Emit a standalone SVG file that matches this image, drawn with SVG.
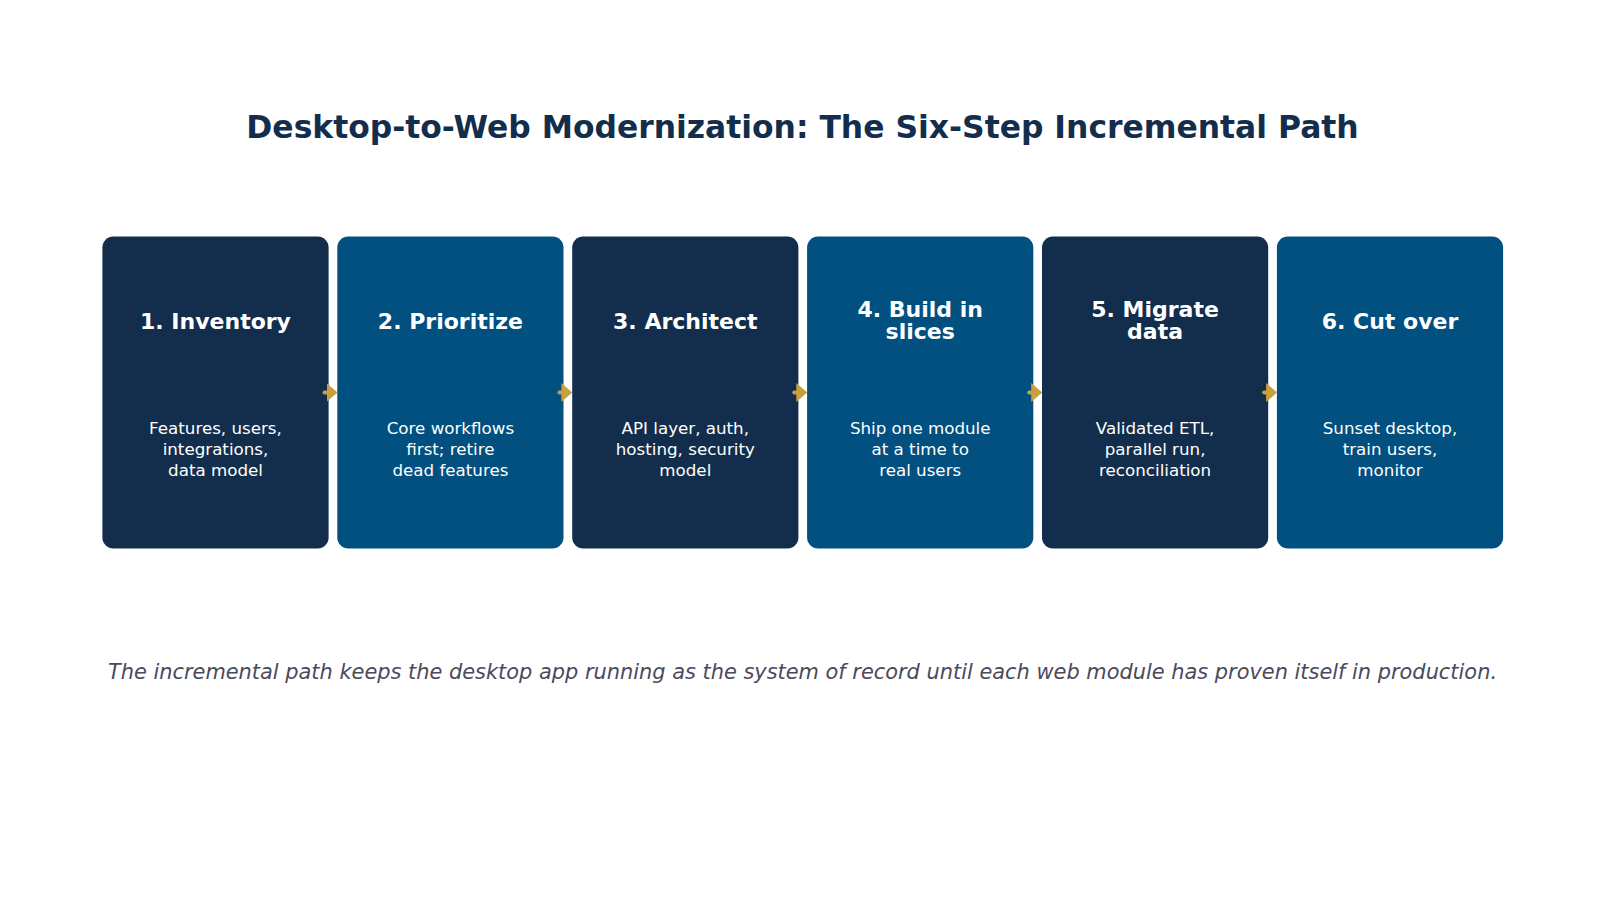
<svg xmlns="http://www.w3.org/2000/svg" width="1605" height="900" viewBox="0 0 1605 900">
<style>
.title{font-family:"DejaVu Sans",sans-serif;font-weight:bold;font-size:31.4px;fill:#132E4D;text-anchor:middle}
.dark{fill:#132E4D}
.blue{fill:#01507F}
.h{font-family:"DejaVu Sans",sans-serif;font-weight:bold;font-size:22px;fill:#FFFFFF;text-anchor:middle}
.b{font-family:"DejaVu Sans",sans-serif;font-size:16.7px;fill:#FFFFFF;text-anchor:middle}
.foot{font-family:"DejaVu Sans",sans-serif;font-style:italic;font-size:20.9px;fill:#4A4A5C;text-anchor:middle}
.conn{stroke:#C9A03F;stroke-width:4;stroke-linecap:round;fill:none}
</style>
<defs>
<marker id="ah" viewBox="0 0 11 19" refX="0" refY="9.5" markerWidth="11" markerHeight="19" orient="auto" markerUnits="userSpaceOnUse">
<path d="M0,0 L11,9.5 L0,19 z" fill="#C9A03F"/>
</marker>
</defs>
<rect width="1605" height="900" fill="#FFFFFF"/>
<text class="title" x="802.5" y="138">Desktop-to-Web Modernization: The Six-Step Incremental Path</text>

<g id="step1"><rect class="dark" x="102.4" y="236.5" width="226.2" height="312" rx="11"/>
<text class="h" x="215.5" y="328.5">1. Inventory</text>
<text class="b" x="215.5" y="434">Features, users,</text><text class="b" x="215.5" y="455">integrations,</text><text class="b" x="215.5" y="476">data model</text></g>

<g id="step2"><rect class="blue" x="337.3" y="236.5" width="226.2" height="312" rx="11"/>
<text class="h" x="450.4" y="328.5">2. Prioritize</text>
<text class="b" x="450.4" y="434">Core workflows</text><text class="b" x="450.4" y="455">first; retire</text><text class="b" x="450.4" y="476">dead features</text></g>

<g id="step3"><rect class="dark" x="572.2" y="236.5" width="226.2" height="312" rx="11"/>
<text class="h" x="685.3" y="328.5">3. Architect</text>
<text class="b" x="685.3" y="434">API layer, auth,</text><text class="b" x="685.3" y="455">hosting, security</text><text class="b" x="685.3" y="476">model</text></g>

<g id="step4"><rect class="blue" x="807.1" y="236.5" width="226.2" height="312" rx="11"/>
<text class="h" x="920.2" y="316.5">4. Build in</text><text class="h" x="920.2" y="339">slices</text>
<text class="b" x="920.2" y="434">Ship one module</text><text class="b" x="920.2" y="455">at a time to</text><text class="b" x="920.2" y="476">real users</text></g>

<g id="step5"><rect class="dark" x="1042" y="236.5" width="226.2" height="312" rx="11"/>
<text class="h" x="1155.1" y="316.5">5. Migrate</text><text class="h" x="1155.1" y="339">data</text>
<text class="b" x="1155.1" y="434">Validated ETL,</text><text class="b" x="1155.1" y="455">parallel run,</text><text class="b" x="1155.1" y="476">reconciliation</text></g>

<g id="step6"><rect class="blue" x="1276.9" y="236.5" width="226.2" height="312" rx="11"/>
<text class="h" x="1390" y="328.5">6. Cut over</text>
<text class="b" x="1390" y="434">Sunset desktop,</text><text class="b" x="1390" y="455">train users,</text><text class="b" x="1390" y="476">monitor</text></g>

<g id="connectors">
<line class="conn" x1="324.5" y1="392.5" x2="326.5" y2="392.5" marker-end="url(#ah)"/>
<line class="conn" x1="559.4" y1="392.5" x2="561.4" y2="392.5" marker-end="url(#ah)"/>
<line class="conn" x1="794.3" y1="392.5" x2="796.3" y2="392.5" marker-end="url(#ah)"/>
<line class="conn" x1="1029.2" y1="392.5" x2="1031.2" y2="392.5" marker-end="url(#ah)"/>
<line class="conn" x1="1264.1" y1="392.5" x2="1266.1" y2="392.5" marker-end="url(#ah)"/>
</g>

<text class="foot" x="802.5" y="679">The incremental path keeps the desktop app running as the system of record until each web module has proven itself in production.</text>
</svg>
